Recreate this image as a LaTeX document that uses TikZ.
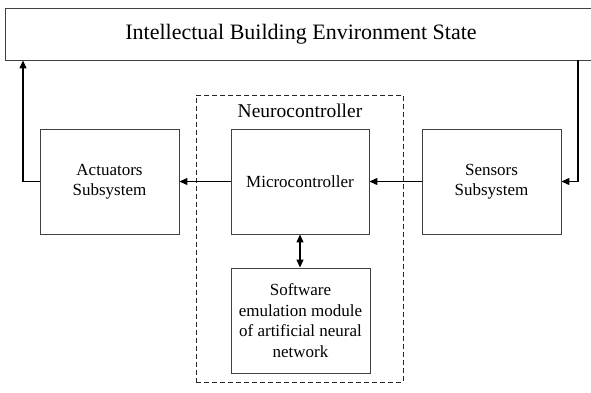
\documentclass[tikz,border=0pt]{standalone}
\usepackage{fontspec}
\setmainfont{Liberation Serif}
\usetikzlibrary{arrows.meta,calc}
\begin{document}
\begin{tikzpicture}[x=1pt,y=-1pt,
  block/.style={draw=black!75,line width=0.9pt,minimum width=139pt,minimum height=105pt,
    align=center,inner sep=0pt,font=\fontsize{17}{20.5}\selectfont},
  flow/.style={line width=1.2pt,-{Triangle[length=8pt,width=7pt]}},
  biflow/.style={line width=1.2pt,{Triangle[length=8pt,width=7pt]}-{Triangle[length=8pt,width=7pt]}}]
\useasboundingbox (0,0) rectangle (591,392);

% environment state bar, running off the right edge
\node[draw=black!75,line width=0.9pt,minimum width=592pt,minimum height=52pt,inner sep=0pt,
  font=\fontsize{22}{26}\selectfont] (env) at (301,34) {Intellectual Building Environment State};

% neurocontroller frame
\node[draw=black!85,line width=0.8pt,dashed,dash pattern=on 5pt off 3pt,
  minimum width=207pt,minimum height=287pt,inner sep=0pt] (neuro) at (299.5,238.5) {};
\node[font=\fontsize{19.5}{22}\selectfont,inner sep=0pt] (neurolabel) at (300,111) {Neurocontroller};

% blocks
\node[block] (act) at (109.5,181.5) {Actuators\\Subsystem};
\node[block,minimum width=138pt] (mic) at (300,181.5) {Microcontroller};
\node[block] (sens) at (491.5,181.5) {Sensors\\Subsystem};
\node[block,minimum width=139pt] (sw) at (300.5,320.5) {Software\\emulation module\\of artificial neural\\network};

% corner points of the feedback loop
\coordinate (lc) at (23,181.5);
\coordinate (rc) at (578,181.5);

% connectors
\draw[flow] (sens.west) -- (mic.east);
\draw[flow] (mic.west) -- (act.east);
\draw[flow] (act.west) -- (lc) -- (lc |- env.south);
\draw[flow] (rc |- env.south) -- (rc) -- (sens.east);
\draw[biflow] (mic.south) -- (sw.north -| mic.south);
\end{tikzpicture}
\end{document}
